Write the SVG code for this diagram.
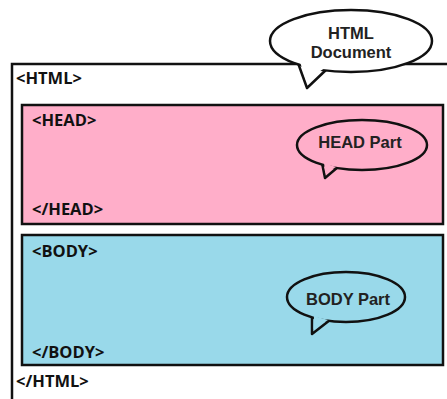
<svg xmlns="http://www.w3.org/2000/svg" width="447" height="399" viewBox="0 0 447 399">
<style>
.tag{font-family:"Open Sans","Liberation Sans",sans-serif;font-weight:bold;font-size:16.5px;fill:#111}
.bt{font-family:"Liberation Sans",Arial,sans-serif;font-weight:bold;font-size:16.5px;fill:#222;text-anchor:middle}
.box{stroke:#111;stroke-width:2.5}
.bub{stroke:#111;stroke-width:2.5;stroke-linejoin:round}
</style>
<rect width="447" height="399" fill="#fff"/>
<g id="html">
<path d="M12 402 V64 H450" fill="none" class="box"/>
<text class="tag" x="16" y="84">&lt;HTML&gt;</text>
<text class="tag" x="16" y="387">&lt;/HTML&gt;</text>
</g>
<g id="head">
<rect x="22" y="105" width="421" height="119" fill="#FFAEC9" class="box"/>
<text class="tag" x="32" y="126">&lt;HEAD&gt;</text>
<text class="tag" x="32" y="215">&lt;/HEAD&gt;</text>
</g>
<g id="body">
<rect x="22" y="235" width="421" height="130" fill="#99D9EA" class="box"/>
<text class="tag" x="32" y="257">&lt;BODY&gt;</text>
<text class="tag" x="32" y="358">&lt;/BODY&gt;</text>
</g>
<g id="html-bubble">
<path d="M298 63 L307 88 L327 69 Z" fill="#fff" class="bub"/>
<ellipse cx="351" cy="41" rx="81" ry="31" fill="#fff" class="bub"/>
<path d="M300 62 L306 80 L325 68 Z" fill="#fff"/>
<text class="bt" x="351" y="39">HTML</text>
<text class="bt" x="351" y="58">Document</text>
</g>
<g id="head-bubble">
<path d="M322 163 L325 178 L338 167 Z" fill="#FFAEC9" class="bub"/>
<ellipse cx="362" cy="145" rx="65" ry="25" fill="#FFAEC9" class="bub"/>
<path d="M324 163 L325.5 173 L336 167 Z" fill="#FFAEC9"/>
<text class="bt" x="360" y="148">HEAD Part</text>
</g>
<g id="body-bubble">
<path d="M312 316 L312 334 L330 320 Z" fill="#99D9EA" class="bub"/>
<ellipse cx="346" cy="297" rx="59" ry="25" fill="#99D9EA" class="bub"/>
<path d="M314 316 L313.5 329 L328 320 Z" fill="#99D9EA"/>
<text class="bt" x="348" y="305">BODY  Part</text>
</g>
</svg>
